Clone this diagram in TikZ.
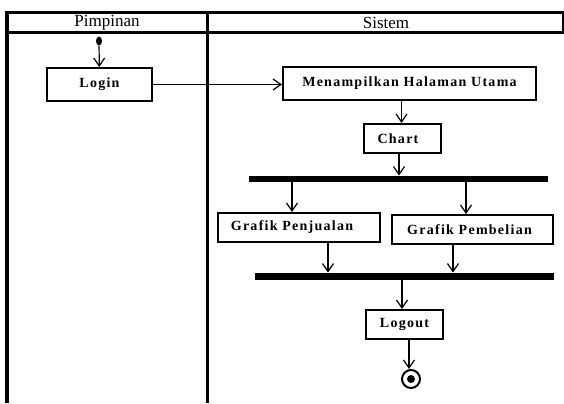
\documentclass[tikz,border=0pt]{standalone}
\usepackage{fontspec}
\setmainfont{Liberation Serif}
\newfontfamily\actfont[LetterSpace=9]{Liberation Serif}
\usetikzlibrary{arrows.meta,shapes.geometric}
\begin{document}
\begin{tikzpicture}[x=0.5pt, y=-0.5pt]
        \tikzstyle{lane} = [line width=1.5pt]
        \tikzstyle{act} = [draw, line width=1pt, inner sep=0pt, font=\actfont\bfseries\fontsize{7}{8}\selectfont]
        \tikzstyle{bar} = [fill=black, inner sep=0pt, minimum width=149.5pt]
        \tikzstyle{flow} = [line width=0.6pt, -{Straight Barb[length=4pt,width=5.5pt]}]

        \useasboundingbox (0,0) rectangle (564,403);

		\draw[lane] (7,403) -- (7,12) -- (564,12);
		\draw[lane] (563,12) -- (563,32);
		\draw[lane] (7,32) -- (564,32);
		\draw[lane] (207,12) -- (207,403);

		\node[font=\fontsize{8.5}{10}\selectfont] (pimpinan) at (107,23) {Pimpinan};
		\node[font=\fontsize{8.5}{10}\selectfont] (sistem) at (386,23) {Sistem};

		\node[ellipse, fill=black, inner sep=0pt, minimum width=3pt, minimum height=4.5pt] (start) at (99,41) {};
		\node[act, minimum width=52.5pt, minimum height=16.5pt] (login) at (99.5,84.5) {Login};
		\node[act, minimum width=126.5pt, minimum height=16.5pt] (menu) at (409.5,83.5) {Menampilkan Halaman Utama};
		\node[act, minimum width=38.5pt, minimum height=14.5pt] (chart) at (402.5,138.5) {\hspace*{-4.5pt}Chart};
		\node[bar, minimum height=3pt] (fork) at (398.5,179) {};
		\node[act, minimum width=81pt, minimum height=14.5pt] (jual) at (299,227.5) {\hspace*{-7pt}Grafik Penjualan};
		\node[act, minimum width=80.5pt, minimum height=14.5pt] (beli) at (472.5,229.5) {\hspace*{-3pt}Grafik Pembelian};
		\node[bar, minimum height=3.5pt] (join) at (404.5,276.5) {};
		\node[act, minimum width=38.5pt, minimum height=14.5pt] (logout) at (404.5,324.5) {Logout};
		\node[circle, draw, line width=1pt, inner sep=0pt, minimum size=9pt] (end) at (411,379) {};
		\node[circle, fill=black, inner sep=0pt, minimum size=4pt] (enddot) at (end) {};

		\path ([xshift=-0.5pt]chart.north) coordinate (c1);
		\path ([xshift=-1.75pt]chart.south) coordinate (c2);
		\path ([xshift=-3.5pt]jual.north) coordinate (j1);
		\path ([xshift=14.5pt]jual.south) coordinate (j2);
		\path ([xshift=-3.25pt]beli.north) coordinate (b1);
		\path ([xshift=-9.75pt]beli.south) coordinate (b2);
		\path ([xshift=-1.25pt]logout.north) coordinate (l1);
		\path ([xshift=2.25pt]logout.south) coordinate (l2);

		\draw[flow] (start) -- (login);
		\draw[flow] (login.east) -- (login.east -| menu.west);
		\draw[flow] (c1 |- menu.south) -- (c1);
		\draw[flow] (c2) -- (c2 |- fork.north);
		\draw[flow] (j1 |- fork.south) -- (j1);
		\draw[flow] (b1 |- fork.south) -- (b1);
		\draw[flow] (j2) -- (j2 |- join.north);
		\draw[flow] (b2) -- (b2 |- join.north);
		\draw[flow] (l1 |- join.south) -- (l1);
		\draw[flow] (l2) -- (l2 |- end.north);

    \end{tikzpicture}
\end{document}
